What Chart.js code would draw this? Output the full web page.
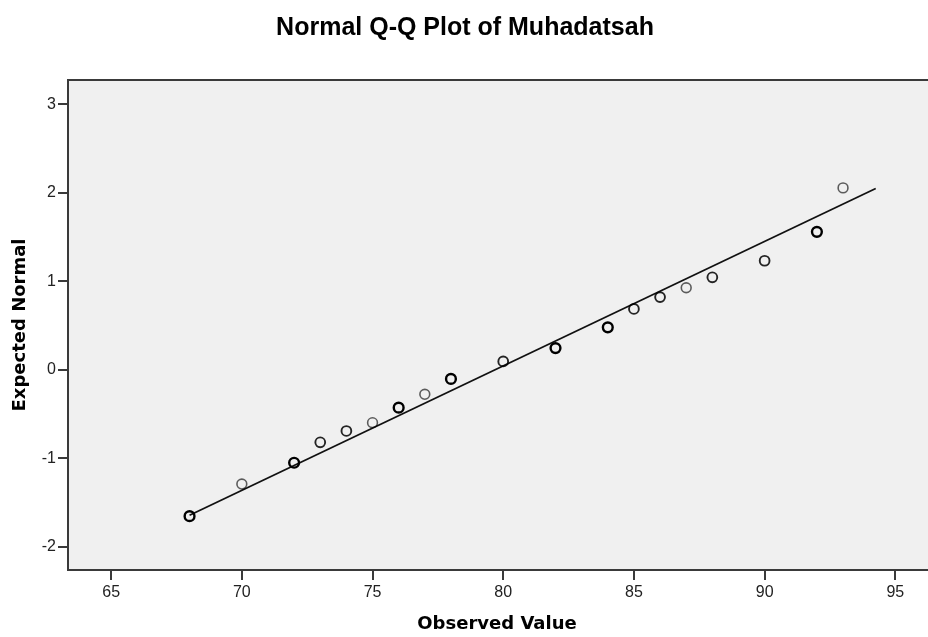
<!DOCTYPE html>
<html>
<head>
<meta charset="utf-8">
<script src="https://cdn.jsdelivr.net/npm/chart.js@4.4.0/dist/chart.umd.min.js"></script>
<style>
  html, body { margin: 0; padding: 0; background: #ffffff; }
  #wrap { width: 928px; height: 637px; position: relative; }
</style>
</head>
<body>
<div id="wrap"><canvas id="c" width="928" height="637"></canvas></div>
<script>
// ---- data ----
const chartTitle = "Normal Q-Q Plot of Muhadatsah";
const xTitle = "Observed Value";
const yTitle = "Expected Normal";
const observed = [68, 70, 72, 73, 74, 75, 76, 77, 78, 80, 82, 84, 85, 86, 87, 88, 90, 92, 93];
const expected = [-1.655, -1.292, -1.051, -0.82, -0.692, -0.598, -0.428, -0.277, -0.103, 0.095, 0.245, 0.48, 0.688, 0.822, 0.928, 1.046, 1.233, 1.56, 2.057];
const counts   = [3, 1, 3, 2, 2, 1, 3, 1, 3, 2, 3, 3, 2, 2, 1, 2, 2, 3, 1];
const lineX = [68, 94.25];
const lineY = [-1.645, 2.05];
const xTicks = [65, 70, 75, 80, 85, 90, 95];
const yTicks = [-2, -1, 0, 1, 2, 3];
const xRange = [63.35, 96.25];
const yRange = [-2.264, 3.277];

const points = observed.map((x, i) => ({ x: x, y: expected[i], n: counts[i] }));
const linePts = lineX.map((x, i) => ({ x: x, y: lineY[i] }));

const axisColor = '#3a3a3a';

const framePlugin = {
  id: 'frame',
  beforeDraw(chart) {
    const { ctx, chartArea: a } = chart;
    ctx.save();
    ctx.fillStyle = '#ffffff';
    ctx.fillRect(0, 0, chart.width, chart.height);
    ctx.fillStyle = '#f0f0f0';
    ctx.fillRect(a.left, a.top, a.right - a.left, a.bottom - a.top);
    ctx.restore();
  },
  afterDraw(chart) {
    const { ctx, chartArea: a } = chart;
    ctx.save();
    ctx.strokeStyle = axisColor;
    ctx.lineWidth = 2;
    ctx.beginPath();
    ctx.moveTo(a.left - 1, a.top);
    ctx.lineTo(a.right, a.top);
    ctx.stroke();
    // titles
    ctx.fillStyle = '#000000';
    ctx.textAlign = 'center';
    ctx.textBaseline = 'middle';
    ctx.font = 'bold 25px "Liberation Sans", Arial, sans-serif';
    ctx.fillText(chartTitle, 465, 28);
    ctx.font = 'bold 18px "DejaVu Sans", Verdana, sans-serif';
    ctx.fillText(xTitle, 497, 624);
    ctx.translate(20, 325);
    ctx.rotate(-Math.PI / 2);
    ctx.fillText(yTitle, 0, 0);
    ctx.restore();
  }
};

new Chart(document.getElementById('c'), {
  type: 'scatter',
  data: {
    datasets: [
      {
        type: 'line',
        data: linePts,
        borderColor: '#111111',
        borderWidth: 1.8,
        pointRadius: 0,
        fill: false,
        order: 2
      },
      {
        type: 'scatter',
        data: points,
        pointStyle: 'circle',
        pointRadius: 4.9,
        backgroundColor: 'rgba(0,0,0,0)',
        borderColor: ctx => {
          const n = ctx.raw ? ctx.raw.n : 1;
          return n >= 3 ? '#000000' : (n === 2 ? 'rgba(0,0,0,0.85)' : 'rgba(0,0,0,0.62)');
        },
        borderWidth: ctx => {
          const n = ctx.raw ? ctx.raw.n : 1;
          return n >= 3 ? 2.4 : (n === 2 ? 1.9 : 1.6);
        },
        order: 1
      }
    ]
  },
  options: {
    responsive: false,
    animation: false,
    events: [],
    layout: { autoPadding: false, padding: { left: 0, right: 0, top: 80, bottom: 0 } },
    plugins: {
      legend: { display: false },
      title: { display: false },
      tooltip: { enabled: false }
    },
    scales: {
      x: {
        type: 'linear',
        min: xRange[0],
        max: xRange[1],
        afterFit(scale) { scale.height = 67; scale.paddingLeft = 0; scale.paddingRight = 0; },
        afterBuildTicks(scale) { scale.ticks = xTicks.map(v => ({ value: v })); },
        border: { display: true, color: axisColor, width: 2 },
        grid: { display: true, drawOnChartArea: false, drawTicks: true, tickLength: 10, color: axisColor, lineWidth: 2 },
        ticks: {
          color: '#222222',
          padding: 3,
          maxRotation: 0,
          autoSkip: false,
          font: { family: '"Liberation Sans", Arial, sans-serif', size: 16 },
          callback: v => String(v)
        }
      },
      y: {
        type: 'linear',
        min: yRange[0],
        max: yRange[1],
        afterFit(scale) { scale.width = 68; scale.paddingTop = 0; scale.paddingBottom = 0; },
        afterBuildTicks(scale) { scale.ticks = yTicks.map(v => ({ value: v })); },
        border: { display: true, color: axisColor, width: 2 },
        grid: { display: true, drawOnChartArea: false, drawTicks: true, tickLength: 10, color: axisColor, lineWidth: 2 },
        ticks: {
          color: '#222222',
          padding: 2,
          autoSkip: false,
          font: { family: '"Liberation Sans", Arial, sans-serif', size: 16 },
          callback: v => String(v)
        }
      }
    }
  },
  plugins: [framePlugin]
});
</script>
</body>
</html>
